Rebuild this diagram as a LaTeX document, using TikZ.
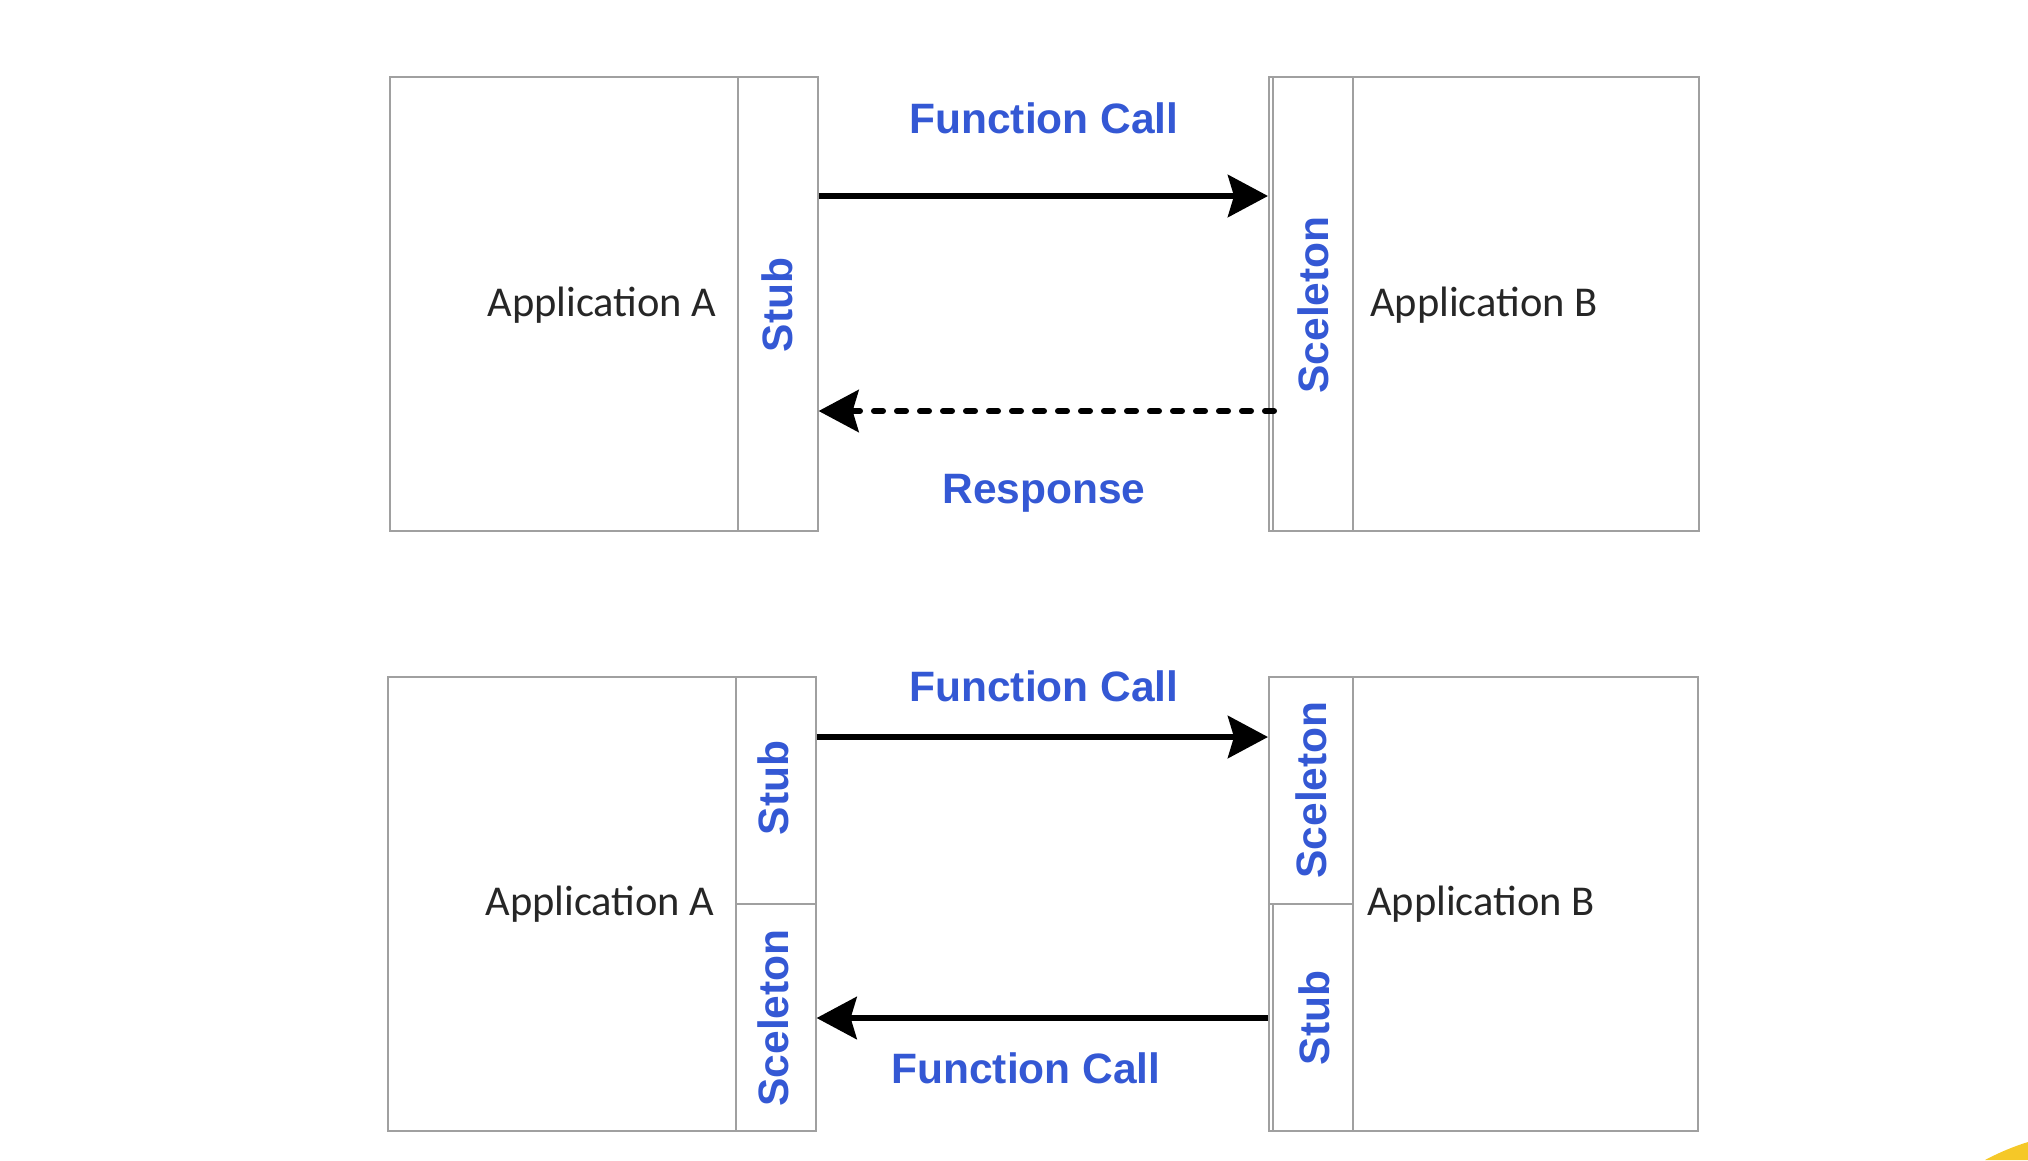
\documentclass[tikz,border=0pt]{standalone}
\usepackage{fontspec}
\setmainfont{Liberation Sans}
\newfontfamily\appfont{Carlito}
\usetikzlibrary{arrows.meta}
\definecolor{lblblue}{RGB}{52,88,212}
\definecolor{boxgray}{RGB}{160,160,160}
\definecolor{swoosh}{RGB}{245,200,40}
\tikzset{
  box/.style={draw=boxgray, line width=1.6pt, anchor=north west, inner sep=0pt},
  apptxt/.style={font=\appfont\fontsize{42.5}{48}\selectfont, text=black!85},
  bluetxt/.style={font=\bfseries\fontsize{42.5}{48}\selectfont, text=lblblue},
  vtxt/.style={bluetxt, rotate=90},
  arr/.style={line width=6.5pt, -{Stealth[length=40pt,width=42pt,inset=6pt]}},
  darr/.style={line width=6pt, dash pattern=on 9pt off 14pt, line cap=round,
    -{Stealth[length=40pt,width=42pt,inset=6pt,line cap=butt]}}
}
\begin{document}
\begin{tikzpicture}[x=1pt,y=-1pt]
\useasboundingbox (0,0) rectangle (2028,1160);
% ---------- top panel ----------
\node[box, minimum width=428pt, minimum height=454pt] (appA) at (389,76) {};
\node[box, minimum width=80pt, minimum height=454pt] (stubA) at (737,76) {};
\node[box, minimum width=430pt, minimum height=454pt] (appB) at (1268,76) {};
\node[box, minimum width=80pt, minimum height=454pt] (skelB) at (1272,76) {};
\node[apptxt] (tA) at (602,305) {Application A};
\node[apptxt] (tB) at (1484,305) {Application B};
\node[vtxt] (tStubA) at (777,305) {Stub};
\node[vtxt] (tSkelB) at (1313,305) {Sceleton};
\node[bluetxt] (fc1) at (1044,118) {Function Call};
\node[bluetxt] (resp) at (1044,493) {Response};
\draw[arr] ([yshift=-120pt]stubA.north east) -- ([yshift=-120pt]appB.north west);
\draw[darr] ([yshift=-335pt,xshift=2pt]skelB.north west) -- ([yshift=-335pt]stubA.north east);
% ---------- bottom panel ----------
\node[box, minimum width=428pt, minimum height=454pt] (appA2) at (387,676) {};
\node[box, minimum width=80pt, minimum height=227pt] (stubA2) at (735,676) {};
\node[box, minimum width=80pt, minimum height=227pt] (skelA2) at (735,903) {};
\node[box, minimum width=429pt, minimum height=454pt] (appB2) at (1268,676) {};
\node[box, minimum width=84pt, minimum height=227pt] (skelB2) at (1268,676) {};
\node[box, minimum width=80pt, minimum height=227pt] (stubB2) at (1272,903) {};
\node[apptxt] (tA2) at (600,904) {Application A};
\node[apptxt] (tB2) at (1481,904) {Application B};
\node[vtxt] (tStubA2) at (773,788) {Stub};
\node[vtxt] (tSkelA2) at (773,1018) {Sceleton};
\node[vtxt] (tSkelB2) at (1311,790) {Sceleton};
\node[vtxt] (tStubB2) at (1314,1018) {Stub};
\node[bluetxt] (fc2) at (1044,686) {Function Call};
\node[bluetxt] (fc3) at (1026,1068) {Function Call};
\draw[arr] ([yshift=-61pt]stubA2.north east) -- ([yshift=-61pt]skelB2.north west);
\draw[arr] ([yshift=-115pt]appB2.west |- stubB2.north) -- ([yshift=-115pt]skelA2.north east);
% ---------- corner swoosh ----------
\fill[swoosh] (1985,1160) .. controls (2000,1152) and (2015,1146) .. (2028,1142) -- (2028,1160) -- cycle;
\end{tikzpicture}
\end{document}
